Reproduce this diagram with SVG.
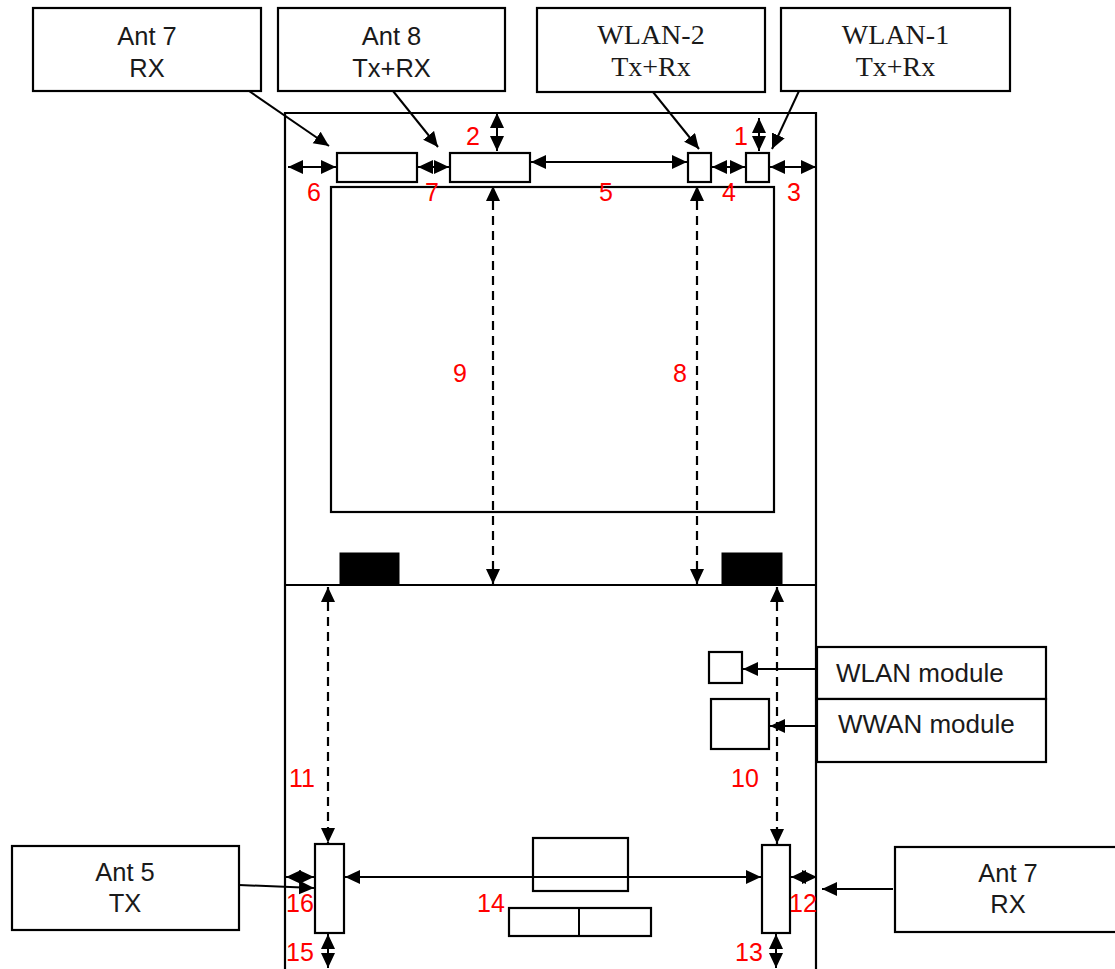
<svg xmlns="http://www.w3.org/2000/svg" width="1115" height="969" viewBox="0 0 1115 969">
<defs>
<style>
.box{fill:#fff;stroke:#000;stroke-width:2.2}
.blk{fill:#000;stroke:#000;stroke-width:1}
.ln{fill:none;stroke:#000;stroke-width:2}
.dash{fill:none;stroke:#000;stroke-width:2.2;stroke-dasharray:9 6}
.sans{font-family:"Liberation Sans",Arial,sans-serif;font-size:25.5px;fill:#1a1a1a}
.serif{font-family:"Liberation Serif","Times New Roman",serif;font-size:28px;fill:#1a1a1a}
.num{font-family:"Liberation Sans",Arial,sans-serif;font-size:25px;fill:#ff0000;text-anchor:middle}
.c{text-anchor:middle}
.a2{marker-start:url(#ah);marker-end:url(#ah)}
.a1{marker-end:url(#ah)}
</style>
<marker id="ah" markerUnits="userSpaceOnUse" markerWidth="17" markerHeight="15" refX="15" refY="7" orient="auto-start-reverse">
<path d="M0,0 L15,7 L0,14 z" fill="#000"/>
</marker>
</defs>
<rect width="1115" height="969" fill="#fff"/>

<g id="frame">
<path class="ln" d="M285,969 V113 H816 V969" style="stroke-width:2.2"/>
<line class="ln" x1="285" y1="585" x2="816" y2="585" style="stroke-width:2.2"/>
</g>

<g id="display">
<rect class="box" x="331" y="187" width="443" height="325"/>
</g>

<g id="top-rect-a"><rect class="box" x="337" y="153" width="80" height="29"/></g>
<g id="top-rect-b"><rect class="box" x="450" y="153" width="80" height="29"/></g>
<g id="top-rect-c"><rect class="box" x="688" y="153" width="23" height="29"/></g>
<g id="top-rect-d"><rect class="box" x="746" y="153" width="23" height="29"/></g>

<g id="black-left"><rect class="blk" x="340" y="553" width="59" height="32"/></g>
<g id="black-right"><rect class="blk" x="722" y="553" width="60" height="32"/></g>

<g id="wlan-small"><rect class="box" x="709" y="652" width="33" height="31"/></g>
<g id="wwan-small"><rect class="box" x="711" y="699" width="58" height="50"/></g>

<g id="bottom-left-rect"><rect class="box" x="315" y="844" width="29" height="89"/></g>
<g id="bottom-right-rect"><rect class="box" x="762" y="845" width="28" height="88"/></g>
<g id="bottom-center-rect"><rect class="box" x="533" y="838" width="95" height="53"/></g>
<g id="bottom-split-rect">
<rect class="box" x="509" y="908" width="142" height="28"/>
<line class="ln" x1="579" y1="908" x2="579" y2="936"/>
</g>

<g id="ant7-top">
<rect class="box" x="33" y="8" width="228" height="83"/>
<text class="sans c" x="147" y="45">Ant 7</text>
<text class="sans c" x="147" y="77">RX</text>
</g>
<g id="ant8-top">
<rect class="box" x="278" y="8" width="227" height="83"/>
<text class="sans c" x="391.5" y="45">Ant 8</text>
<text class="sans c" x="391.5" y="77">Tx+RX</text>
</g>
<g id="wlan2">
<rect class="box" x="537" y="8" width="228" height="84"/>
<text class="serif c" x="651" y="44">WLAN-2</text>
<text class="serif c" x="651" y="76">Tx+Rx</text>
</g>
<g id="wlan1">
<rect class="box" x="781" y="8" width="229" height="83"/>
<text class="serif c" x="895.5" y="44">WLAN-1</text>
<text class="serif c" x="895.5" y="76">Tx+Rx</text>
</g>

<g id="wlan-module">
<rect class="box" x="817" y="647" width="229" height="52"/>
<text class="sans" x="836" y="682" style="font-size:26px">WLAN module</text>
</g>
<g id="wwan-module">
<rect class="box" x="817" y="699" width="229" height="63"/>
<text class="sans" x="838" y="733" style="font-size:26px">WWAN module</text>
</g>

<g id="ant5">
<rect class="box" x="12" y="846" width="227" height="84"/>
<text class="sans c" x="125" y="881">Ant 5</text>
<text class="sans c" x="125" y="912">TX</text>
</g>
<g id="ant7-bottom">
<rect class="box" x="895" y="847" width="226" height="85"/>
<text class="sans c" x="1008" y="882">Ant 7</text>
<text class="sans c" x="1008" y="913">RX</text>
</g>

<g id="connectors">
<line class="ln a1" x1="249" y1="91" x2="329" y2="146"/>
<line class="ln a1" x1="393" y1="91" x2="438" y2="147"/>
<line class="ln a1" x1="653" y1="92" x2="699" y2="149"/>
<line class="ln a1" x1="799" y1="91" x2="772" y2="149"/>

<line class="ln a2" x1="288" y1="167" x2="336" y2="167"/>
<line class="ln a2" x1="418" y1="167" x2="449" y2="167"/>
<line class="ln a2" x1="531" y1="162" x2="687" y2="162"/>
<line class="ln a2" x1="712" y1="167" x2="745" y2="167"/>
<line class="ln a2" x1="770" y1="167" x2="816" y2="167"/>
<line class="ln a2" x1="497" y1="113" x2="497" y2="151"/>
<line class="ln a2" x1="759" y1="118" x2="759" y2="151"/>

<line class="dash a2" x1="493" y1="186" x2="493" y2="584"/>
<line class="dash a2" x1="697" y1="186" x2="697" y2="584"/>
<line class="dash a2" x1="328" y1="587" x2="328" y2="843"/>
<line class="dash a2" x1="777" y1="587" x2="777" y2="844"/>

<line class="ln a1" x1="817" y1="669" x2="743" y2="669"/>
<line class="ln a1" x1="817" y1="726" x2="770" y2="726"/>

<line class="ln a2" x1="345" y1="877" x2="761" y2="877"/>
<line class="ln a2" x1="286" y1="877" x2="314" y2="877"/>
<line class="ln a2" x1="791" y1="877" x2="817" y2="877"/>
<line class="ln a1" x1="239" y1="885" x2="314" y2="888"/>
<line class="ln a1" x1="893" y1="889" x2="822" y2="889"/>
<line class="ln a2" x1="328" y1="934" x2="328" y2="968"/>
<line class="ln a2" x1="776" y1="934" x2="776" y2="968"/>
</g>

<g id="labels">
<text class="num" x="473" y="145">2</text>
<text class="num" x="741" y="145">1</text>
<text class="num" x="314" y="201">6</text>
<text class="num" x="432" y="201">7</text>
<text class="num" x="606" y="201">5</text>
<text class="num" x="729" y="201">4</text>
<text class="num" x="794" y="201">3</text>
<text class="num" x="460" y="382">9</text>
<text class="num" x="680" y="382">8</text>
<text class="num" x="302" y="787">11</text>
<text class="num" x="745" y="787">10</text>
<text class="num" x="300" y="912">16</text>
<text class="num" x="491" y="912">14</text>
<text class="num" x="803" y="912">12</text>
<text class="num" x="300" y="961">15</text>
<text class="num" x="749" y="961">13</text>
</g>
</svg>
